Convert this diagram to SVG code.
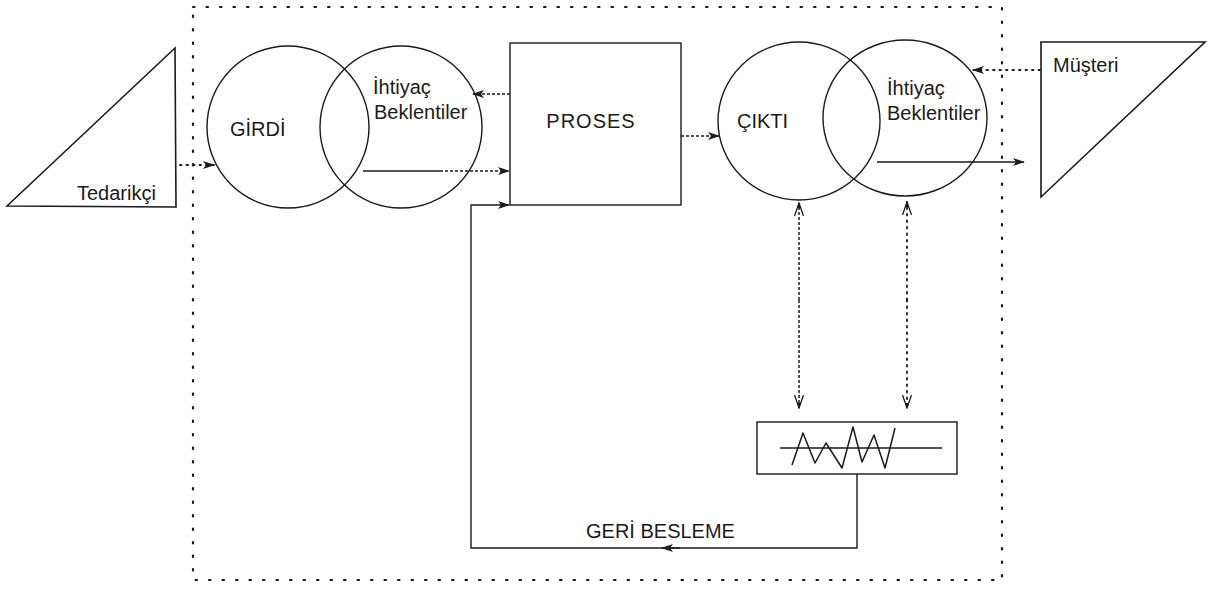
<svg xmlns="http://www.w3.org/2000/svg" width="1213" height="589" viewBox="0 0 1213 589">
<defs>
<style>
.bg{fill:#ffffff}
.shape{fill:none;stroke:#1a1a1a;stroke-width:1.4}
.tri{fill:#ffffff;stroke:#1a1a1a;stroke-width:1.6}
.boundary{fill:none;stroke:#1a1a1a;stroke-width:2.2;stroke-dasharray:1.5 12;stroke-linecap:round}
.solid{fill:none;stroke:#1a1a1a;stroke-width:1.4}
.dashed{fill:none;stroke:#1a1a1a;stroke-width:1.5;stroke-dasharray:3 2}
.dotted{fill:none;stroke:#1a1a1a;stroke-width:1.8;stroke-dasharray:1.5 5;stroke-linecap:round}
.lbl{font-family:"Liberation Sans",Arial,sans-serif;font-size:20px;fill:#1a1a1a}
.wave{fill:none;stroke:#1a1a1a;stroke-width:1.5;stroke-linejoin:round}
</style>
<marker id="ah" viewBox="0 0 12 10" refX="11" refY="5" markerWidth="12" markerHeight="10" markerUnits="userSpaceOnUse" orient="auto">
<path d="M0,1 L12,5 L0,9 L3,5 Z" fill="#1a1a1a"/>
</marker>
<marker id="vee" viewBox="0 0 14 10" refX="13" refY="5" markerWidth="14" markerHeight="10" markerUnits="userSpaceOnUse" orient="auto">
<path d="M0,0.5 L13,5 L0,9.5" fill="none" stroke="#1a1a1a" stroke-width="1.3"/>
<path d="M8,3 L13,5 L8,7 Z" fill="#1a1a1a"/>
</marker>
</defs>
<rect class="bg" x="0" y="0" width="1213" height="589"/>

<g id="boundary">
<rect class="boundary" x="193" y="7" width="809" height="573"/>
</g>

<g id="tedarikci">
<polygon class="tri" points="7,206 175,48 176,207"/>
<text class="lbl" x="77" y="200">Tedarikçi</text>
</g>

<g id="girdi">
<circle class="shape" cx="288" cy="127" r="81"/>
<text class="lbl" x="230" y="136" font-size="21">GİRDİ</text>
</g>

<g id="ihtiyac-girdi">
<circle class="shape" cx="401" cy="127" r="81"/>
<text class="lbl" x="373" y="94">İhtiyaç</text>
<text class="lbl" x="374" y="119">Beklentiler</text>
</g>

<g id="proses">
<rect class="shape" x="510" y="43" width="171" height="162"/>
<text class="lbl" x="591" y="128" text-anchor="middle" letter-spacing="1">PROSES</text>
</g>

<g id="cikti">
<ellipse class="shape" cx="799" cy="121" rx="81" ry="79"/>
<text class="lbl" x="737" y="128">ÇIKTI</text>
</g>

<g id="ihtiyac-cikti">
<ellipse class="shape" cx="905" cy="118" rx="82" ry="78"/>
<text class="lbl" x="887" y="95">İhtiyaç</text>
<text class="lbl" x="887" y="120">Beklentiler</text>
</g>

<g id="musteri">
<polygon class="tri" points="1041,42 1205,42 1041,197"/>
<text class="lbl" x="1053" y="72">Müşteri</text>
</g>

<g id="olcum">
<rect class="shape" x="757" y="422" width="200" height="52"/>
<line class="solid" x1="780" y1="448" x2="942" y2="448"/>
<path class="wave" d="M792,465 L803,433 L815,463 L826,443 L842,468 L853,427 L862,462 L874,435 L885,468 L895,428"/>
</g>

<g id="connectors">
<line class="dotted" x1="180" y1="165" x2="214" y2="165" marker-end="url(#ah)"/>
<line class="solid" x1="363" y1="171" x2="440" y2="171"/>
<line class="dashed" x1="440" y1="171" x2="509" y2="171" marker-end="url(#ah)"/>
<line class="dashed" x1="510" y1="94" x2="473" y2="94" marker-end="url(#ah)"/>
<line class="dashed" x1="681" y1="136" x2="719" y2="136" marker-end="url(#ah)"/>
<line class="dotted" x1="1040" y1="70" x2="973" y2="70" marker-end="url(#ah)"/>
<line class="solid" x1="877" y1="162" x2="1024" y2="162" marker-end="url(#ah)"/>
<line class="dashed" x1="799" y1="300" x2="799" y2="203" marker-end="url(#vee)"/>
<line class="dashed" x1="799" y1="300" x2="799" y2="408" marker-end="url(#vee)"/>
<line class="dotted" x1="907" y1="300" x2="907" y2="202" marker-end="url(#vee)"/>
<line class="dotted" x1="907" y1="300" x2="907" y2="408" marker-end="url(#vee)"/>
<polyline class="solid" points="857,474 857,548 471,548 471,205 509,205" marker-end="url(#ah)"/>
<line class="solid" x1="680" y1="548" x2="662" y2="548" marker-end="url(#ah)"/>
</g>

<g id="geri-besleme">
<text class="lbl" x="586" y="538">GERİ BESLEME</text>
</g>
</svg>
